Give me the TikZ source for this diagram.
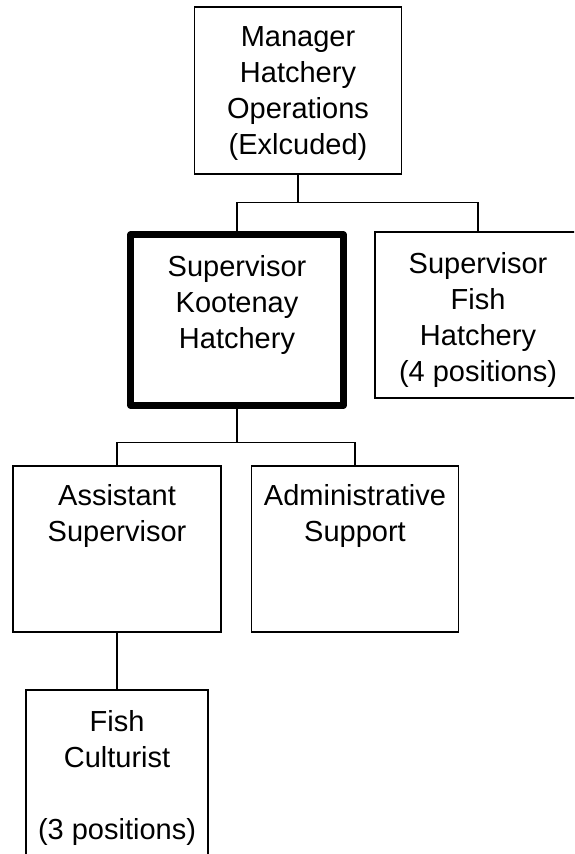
\documentclass[tikz,border=0pt]{standalone}
\usepackage{fontspec}
\setmainfont{Liberation Sans}
\begin{document}
\begin{tikzpicture}[x=1pt,y=1pt,
  box/.style={draw,line width=1.4pt,inner sep=0pt},
  lbl/.style={anchor=north,align=center,inner sep=0pt,font=\fontsize{29}{36}\selectfont},
  link/.style={line width=1.4pt}]

\useasboundingbox (0,0) rectangle (574,-854);
\clip (0,0) rectangle (574,-854);

        \node[box,minimum width=207pt,minimum height=167pt]  (mgr)   at (298,-90.5)  {};
        \node[box,line width=6.5pt,line join=round,minimum width=213pt,minimum height=171pt] (koot) at (237,-320) {};
        \node[box,minimum width=206pt,minimum height=166pt]  (fsh)   at (478,-315)   {};
        \node[box,minimum width=208pt,minimum height=166pt]  (asst)  at (117,-549)   {};
        \node[box,minimum width=207pt,minimum height=166pt]  (admin) at (355,-549)   {};
        \node[box,minimum width=182pt,minimum height=170pt]  (cult)  at (117,-775)   {};

        \node[lbl] (mgrtxt)   at ([yshift=-20pt]mgr.north)   {Manager\\Hatchery\\Operations\\(Exlcuded)};
        \node[lbl] (koottxt)  at ([yshift=-24pt]koot.north)  {Supervisor\\Kootenay\\Hatchery};
        \node[lbl] (fshtxt)   at ([yshift=-21pt]fsh.north)   {Supervisor\\Fish\\Hatchery\\(4 positions)};
        \node[lbl] (assttxt)  at ([yshift=-19pt]asst.north)  {Assistant\\Supervisor};
        \node[lbl] (admintxt) at ([yshift=-19pt]admin.north) {Administrative\\Support};
        \node[lbl] (culttxt)  at ([yshift=-21pt]cult.north)  {Fish\\Culturist\\~\\(3 positions)};

        \coordinate (j1) at ([yshift=-28pt]mgr.south);
        \coordinate (j2) at ([yshift=-33.5pt]koot.south);

        \draw[link] (mgr.south) -- (j1);
        \draw[link] (koot.north) |- (j1) -| (fsh.north);
        \draw[link] (koot.south) -- (j2);
        \draw[link] (asst.north) |- (j2) -| (admin.north);
        \draw[link] (asst.south) -- (cult.north);
      \end{tikzpicture}
\end{document}
